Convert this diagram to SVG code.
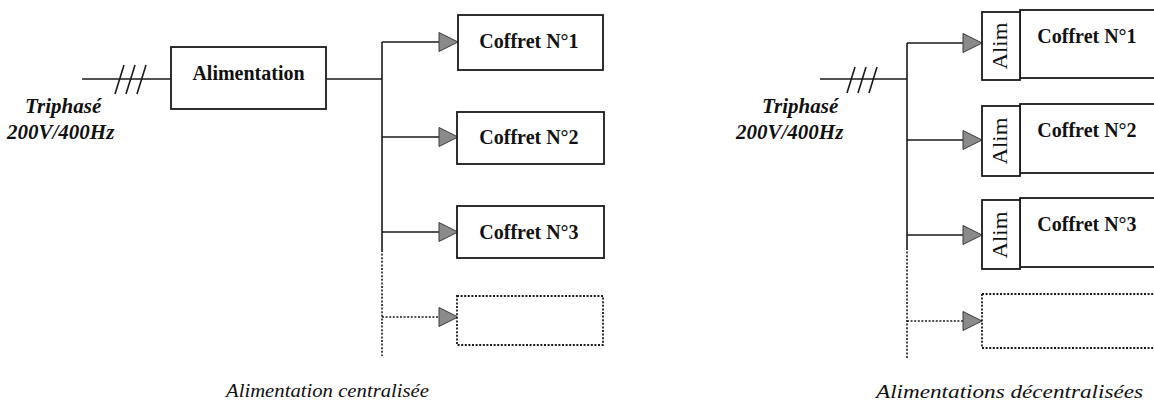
<svg xmlns="http://www.w3.org/2000/svg" width="1154" height="409" viewBox="0 0 1154 409">
  <style>
    .ln { stroke: #1a1a1a; stroke-width: 1.6; fill: none; }
    .dot { stroke: #1a1a1a; stroke-width: 1.6; fill: none; stroke-dasharray: 2 1.6; }
    .box { stroke: #1a1a1a; stroke-width: 1.8; fill: #ffffff; }
    .dbox { stroke: #1a1a1a; stroke-width: 1.8; fill: #ffffff; stroke-dasharray: 2 1.6; }
    .arr { fill: #8a8a8a; stroke: #3a3a3a; stroke-width: 1; }
    text { font-family: 'Liberation Serif', 'DejaVu Serif', serif; fill: #111; }
    .lbl { font-weight: bold; font-size: 20px; text-anchor: middle; }
    .src { font-weight: bold; font-style: italic; font-size: 21px; }
    .alim { font-size: 20px; text-anchor: middle; }
    .cap { font-style: italic; font-size: 18px; }
  </style>
  <defs>
    <polygon id="tri" points="-19,-9.5 0,0 -19,9.5" class="arr"/>
  </defs>

  <!-- Centralised supply -->
  <g id="left-source">
    <text class="src" x="25" y="113">Triphasé</text>
    <text class="src" x="7" y="139">200V/400Hz</text>
  </g>

  <g id="left-connectors">
    <line class="ln" x1="82" y1="79" x2="171" y2="79"/>
    <line class="ln" x1="115" y1="94" x2="124" y2="65"/>
    <line class="ln" x1="126" y1="94" x2="135" y2="65"/>
    <line class="ln" x1="137" y1="94" x2="146" y2="65"/>
    <line class="ln" x1="326" y1="79" x2="382" y2="79"/>
    <line class="ln" x1="382" y1="42" x2="382" y2="250"/>
    <line class="dot" x1="382" y1="250" x2="382" y2="356"/>
    <line class="ln" x1="382" y1="42" x2="440" y2="42"/>
    <line class="ln" x1="382" y1="137" x2="440" y2="137"/>
    <line class="ln" x1="382" y1="232" x2="440" y2="232"/>
    <line class="dot" x1="382" y1="317" x2="440" y2="317"/>
    <use href="#tri" x="458" y="42"/>
    <use href="#tri" x="458" y="137"/>
    <use href="#tri" x="458" y="232"/>
    <use href="#tri" x="458" y="317"/>
  </g>

  <g id="alimentation">
    <rect class="box" x="171" y="47" width="155" height="62"/>
    <text class="lbl" x="248.5" y="80">Alimentation</text>
  </g>

  <g id="left-coffret-1">
    <rect class="box" x="458" y="15" width="145" height="55"/>
    <text class="lbl" x="529" y="48">Coffret N°1</text>
  </g>
  <g id="left-coffret-2">
    <rect class="box" x="457" y="112" width="147" height="52"/>
    <text class="lbl" x="529" y="144">Coffret N°2</text>
  </g>
  <g id="left-coffret-3">
    <rect class="box" x="457" y="206" width="147" height="52"/>
    <text class="lbl" x="529" y="239">Coffret N°3</text>
  </g>
  <g id="left-spare">
    <rect class="dbox" x="457" y="296" width="146" height="49"/>
  </g>

  <text class="cap" x="226" y="397" textLength="203" lengthAdjust="spacingAndGlyphs">Alimentation centralisée</text>

  <!-- Decentralised supplies -->
  <g id="right-source">
    <text class="src" x="762" y="113">Triphasé</text>
    <text class="src" x="736" y="139">200V/400Hz</text>
  </g>

  <g id="right-connectors">
    <line class="ln" x1="820" y1="79" x2="907" y2="79"/>
    <line class="ln" x1="847" y1="93" x2="855" y2="67"/>
    <line class="ln" x1="858" y1="93" x2="866" y2="67"/>
    <line class="ln" x1="869" y1="93" x2="877" y2="67"/>
    <line class="ln" x1="907" y1="43" x2="907" y2="248"/>
    <line class="dot" x1="907" y1="248" x2="907" y2="359"/>
    <line class="ln" x1="907" y1="43" x2="963" y2="43"/>
    <line class="ln" x1="907" y1="140" x2="963" y2="140"/>
    <line class="ln" x1="907" y1="235" x2="963" y2="235"/>
    <line class="dot" x1="907" y1="321" x2="963" y2="321"/>
    <use href="#tri" x="982" y="43"/>
    <use href="#tri" x="982" y="140"/>
    <use href="#tri" x="982" y="235"/>
    <use href="#tri" x="982" y="321"/>
  </g>

  <g id="right-coffret-1">
    <rect class="box" x="1020" y="10" width="150" height="68"/>
    <rect class="box" x="982" y="12" width="38" height="68"/>
    <text class="alim" transform="translate(1007 46) rotate(-90)" textLength="47" lengthAdjust="spacingAndGlyphs">Alim</text>
    <text class="lbl" x="1087" y="43">Coffret N°1</text>
  </g>
  <g id="right-coffret-2">
    <rect class="box" x="1020" y="104" width="150" height="69"/>
    <rect class="box" x="982" y="106" width="38" height="70"/>
    <text class="alim" transform="translate(1007 141) rotate(-90)" textLength="47" lengthAdjust="spacingAndGlyphs">Alim</text>
    <text class="lbl" x="1087" y="137">Coffret N°2</text>
  </g>
  <g id="right-coffret-3">
    <rect class="box" x="1020" y="198" width="150" height="69"/>
    <rect class="box" x="982" y="200" width="38" height="69"/>
    <text class="alim" transform="translate(1007 235) rotate(-90)" textLength="47" lengthAdjust="spacingAndGlyphs">Alim</text>
    <text class="lbl" x="1087" y="231">Coffret N°3</text>
  </g>
  <g id="right-spare">
    <rect class="dbox" x="982" y="294" width="190" height="54"/>
  </g>

  <text class="cap" x="876" y="398" textLength="267" lengthAdjust="spacingAndGlyphs">Alimentations décentralisées</text>
</svg>
